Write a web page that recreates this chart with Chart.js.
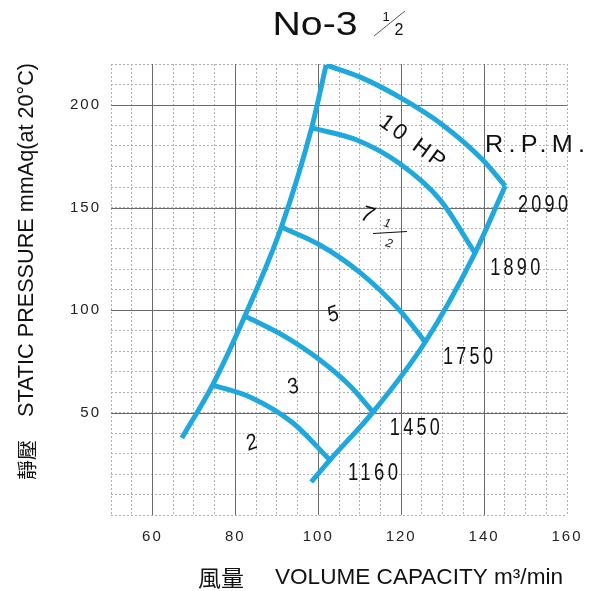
<!DOCTYPE html>
<html>
<head>
<meta charset="utf-8">
<script src="https://cdn.jsdelivr.net/npm/chart.js@4.4.1/dist/chart.umd.min.js"></script>
<style>
  html, body { margin: 0; padding: 0; background: #fff; }
  #wrap { width: 598px; height: 591px; }
</style>
</head>
<body>
<div id="wrap"><canvas id="fan" width="598" height="591"></canvas></div>
<script>
// Kennfeld No-3 1/2
const xTicks = [60, 80, 100, 120, 140, 160];
const yTicks = [50, 100, 150, 200];

// linke Grenzkurve
const leftEdgeVol  = [67.1, 74.5, 82.3, 91.1, 98.4, 101.9];
const leftEdgePres = [37.6, 63.4, 97.1, 140.5, 188.8, 219.5];
// rechte Grenzkurve (Drehzahlpunkte)
const rightEdgeVol  = [98.3, 102.8, 113.2, 125.8, 137.8, 145.1];
const rightEdgePres = [16.1, 26.8, 50.2, 84.4, 127.8, 160.5];
// obere Kurve
const topArcVol  = [101.9, 110.0, 119.7, 130.0, 139.7, 145.1];
const topArcPres = [219.5, 213.7, 203.7, 190.3, 173.2, 160.5];
// Leistungskurven
const hp10Vol  = [98.4, 109.3, 119.7, 129.4, 137.8];
const hp10Pres = [188.8, 182.9, 171.3, 153.7, 127.8];
const hp75Vol  = [91.1, 100.4, 110.1, 119.7, 125.8];
const hp75Pres = [140.5, 131.7, 118.2, 99.7, 84.4];
const hp5Vol  = [82.3, 91.5, 100.4, 107.7, 113.2];
const hp5Pres = [97.1, 87.6, 75.6, 62.9, 50.2];
const hp3Vol  = [74.5, 83.5, 93.9, 102.8];
const hp3Pres = [63.4, 57.6, 44.9, 26.8];

const rpmLabels = ['2090', '1890', '1750', '1450', '1160'];
const hpLabels = ['10 HP', '7', '5', '3', '2'];

const lineColor = '#1fa8de';

function toPoints(xs, ys) {
    return xs.map((v, i) => ({ x: v, y: ys[i] }));
}

function curve(xs, ys) {
    return {
        data: toPoints(xs, ys),
        showLine: true,
        borderColor: lineColor,
        borderWidth: 5,
        pointRadius: 0,
        cubicInterpolationMode: 'monotone',
        borderCapStyle: 'butt',
        borderJoinStyle: 'round',
        fill: false
    };
}

// Text zentriert zeichnen, optional auf Zielbreite gestreckt
function fitText(ctx, text, cx, cy, opt) {
    ctx.save();
    ctx.translate(cx, cy);
    if (opt.angle) ctx.rotate(opt.angle * Math.PI / 180);
    ctx.font = opt.font;
    const sp = opt.spacing || 0;
    ctx.letterSpacing = sp + 'px';
    ctx.fillStyle = opt.color || '#111';
    ctx.textAlign = 'left';
    ctx.textBaseline = 'middle';
    const w = ctx.measureText(text).width - sp;
    const sx = opt.width ? opt.width / w : 1;
    ctx.scale(sx, opt.stretch || 1);
    ctx.fillText(text, -w / 2, 0);
    ctx.restore();
}

const majorGrid = {
    id: 'majorGrid',
    beforeDraw(chart) {
        chart.ctx.letterSpacing = '2px';
    },
    beforeDatasetsDraw(chart) {
        const { ctx, chartArea: a, scales: { x, y } } = chart;
        ctx.save();
        ctx.strokeStyle = '#6a6a6a';
        ctx.lineWidth = 1;
        ctx.beginPath();
        xTicks.forEach(v => {
            if (v <= x.min || v >= x.max) return;
            const px = Math.round(x.getPixelForValue(v)) + 0.5;
            ctx.moveTo(px, a.top);
            ctx.lineTo(px, a.bottom);
        });
        yTicks.forEach(v => {
            if (v <= y.min || v >= y.max) return;
            const py = Math.round(y.getPixelForValue(v)) + 0.5;
            ctx.moveTo(a.left, py);
            ctx.lineTo(a.right, py);
        });
        ctx.stroke();
        ctx.restore();
    }
};

const annotations = {
    id: 'annotations',
    afterDraw(chart) {
        const { ctx, scales: { x, y } } = chart;
        const P = (vx, vy) => [x.getPixelForValue(vx), y.getPixelForValue(vy)];
        const sans = '"Liberation Sans", Arial, sans-serif';

        // Titel
        fitText(ctx, 'No-3', 315, 26, { font: '33px ' + sans, width: 85 });
        ctx.save();
        ctx.strokeStyle = '#555';
        ctx.lineWidth = 1;
        ctx.beginPath();
        ctx.moveTo(374, 36);
        ctx.lineTo(405, 11);
        ctx.stroke();
        ctx.restore();
        fitText(ctx, '1', 386, 17, { font: '13px ' + sans });
        fitText(ctx, '2', 399, 31, { font: '16px ' + sans });

        // Achsentitel
        fitText(ctx, 'STATIC PRESSURE mmAq(at 20°C)', 27, 240, { font: '22px ' + sans, width: 354, angle: -90 });
        fitText(ctx, '靜壓', 27, 460, { font: '20px "Noto Sans CJK TC", sans-serif', width: 40, angle: -90 });
        fitText(ctx, '風量', 221, 578, { font: '22px "Noto Sans CJK TC", sans-serif', width: 46 });
        fitText(ctx, 'VOLUME CAPACITY m³/min', 419, 578, { font: '22px ' + sans, width: 288 });

        // Drehzahlen
        const rpmPos = [[154.2, 151.2], [147.5, 120.5], [136.1, 77.1], [123.3, 42.4], [113.2, 20.5]];
        rpmLabels.forEach((t, i) => {
            const [px, py] = P(rpmPos[i][0], rpmPos[i][1]);
            fitText(ctx, t, px, py, { font: '22px ' + sans, spacing: 4, width: 50, stretch: 1.1 });
        });
        const [rx, ry] = P(152.3, 180.5);
        fitText(ctx, 'R.P.M.', rx, ry, { font: '24px ' + sans, spacing: 5, width: 100 });

        // Leistungen
        let [hx, hy] = P(122.6, 182.0);
        fitText(ctx, hpLabels[0], hx, hy, { font: '22px ' + sans, spacing: 3, width: 76, angle: 36 });
        [hx, hy] = P(111.8, 146.3);
        fitText(ctx, hpLabels[1], hx, hy, { font: 'italic 22px ' + sans, angle: 15 });
        [hx, hy] = P(117.3, 137.8);
        ctx.save();
        ctx.strokeStyle = '#111';
        ctx.lineWidth = 1.2;
        ctx.beginPath();
        ctx.moveTo(hx - 17, hy + 1);
        ctx.lineTo(hx + 17, hy - 1);
        ctx.stroke();
        ctx.restore();
        fitText(ctx, '1', hx - 3, hy - 9, { font: 'italic 12px ' + sans, angle: 15 });
        fitText(ctx, '2', hx - 1, hy + 11, { font: 'italic 12px ' + sans, angle: 15 });
        const small = [[103.6, 97.6, -20], [93.9, 62.4, -20], [84.0, 35.1, -20]];
        small.forEach((s, i) => {
            const [px, py] = P(s[0], s[1]);
            fitText(ctx, hpLabels[i + 2], px, py, { font: 'italic 22px ' + sans, width: 11, angle: s[2] });
        });
    }
};

new Chart(document.getElementById('fan'), {
    type: 'scatter',
    data: {
        datasets: [
            curve(leftEdgeVol, leftEdgePres),
            curve(rightEdgeVol, rightEdgePres),
            curve(topArcVol, topArcPres),
            curve(hp10Vol, hp10Pres),
            curve(hp75Vol, hp75Pres),
            curve(hp5Vol, hp5Pres),
            curve(hp3Vol, hp3Pres)
        ]
    },
    options: {
        responsive: false,
        animation: false,
        layout: { padding: { left: 0, top: 64, right: 31, bottom: 0 } },
        plugins: {
            legend: { display: false },
            tooltip: { enabled: false },
            title: { display: false }
        },
        scales: {
            x: {
                type: 'linear',
                min: 50,
                max: 160,
                afterFit: s => { s.height = 76; },
                border: { display: false, dash: [2, 2] },
                grid: { color: '#b0b0b0', lineWidth: 1, drawTicks: false },
                ticks: {
                    stepSize: 5,
                    autoSkip: false,
                    maxRotation: 0,
                    padding: 13,
                    color: '#222',
                    font: { family: '"Liberation Sans", Arial, sans-serif', size: 15 },
                    callback: v => xTicks.includes(v) ? String(v) : ''
                }
            },
            y: {
                type: 'linear',
                min: 0,
                max: 220,
                afterFit: s => { s.width = 111; },
                border: { display: false, dash: [2, 2] },
                grid: { color: '#b0b0b0', lineWidth: 1, drawTicks: false },
                ticks: {
                    stepSize: 10,
                    autoSkip: false,
                    padding: 10,
                    color: '#222',
                    font: { family: '"Liberation Sans", Arial, sans-serif', size: 15 },
                    callback: v => yTicks.includes(v) ? String(v) : ''
                }
            }
        }
    },
    plugins: [majorGrid, annotations]
});
</script>
</body>
</html>
